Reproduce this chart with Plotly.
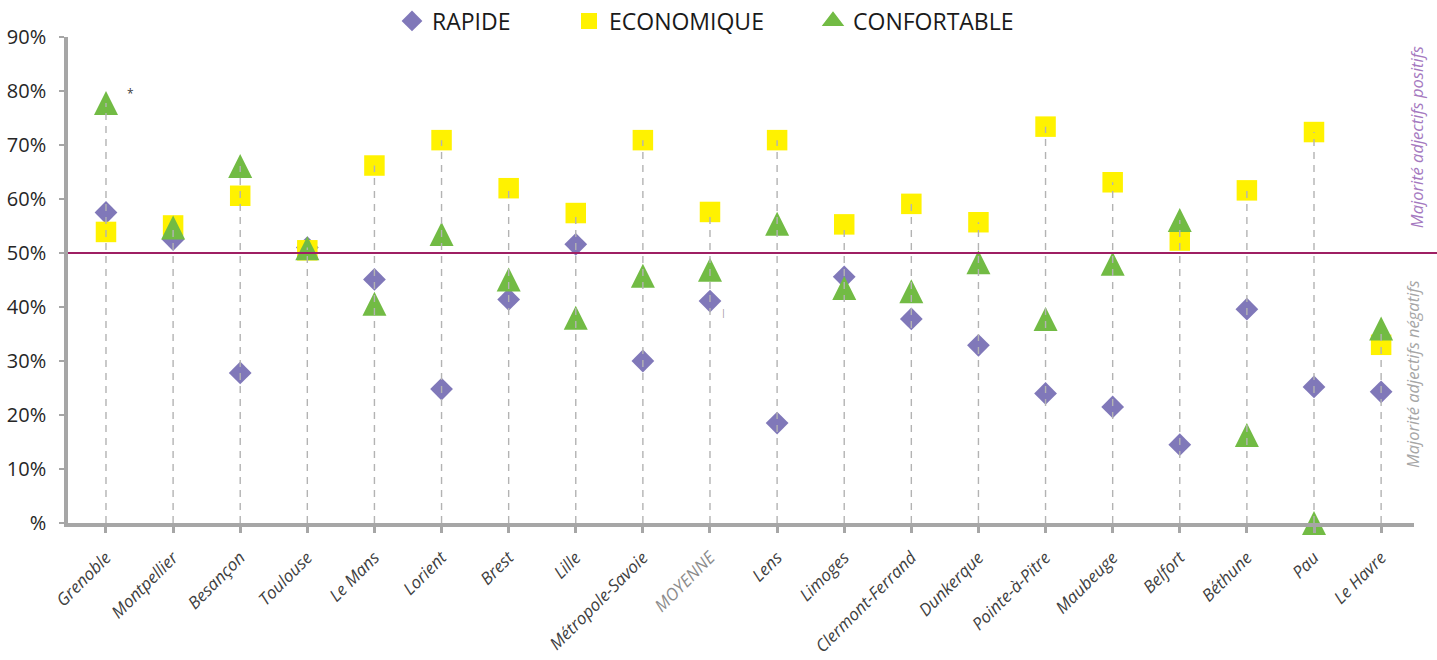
import plotly.graph_objects as go

categories = ["Grenoble", "Montpellier", "Besançon", "Toulouse", "Le Mans", "Lorient",
              "Brest", "Lille", "Métropole-Savoie", "MOYENNE", "Lens", "Limoges",
              "Clermont-Ferrand", "Dunkerque", "Pointe-à-Pitre", "Maubeuge", "Belfort",
              "Béthune", "Pau", "Le Havre"]
rapide = [57.5, 52.5, 27.8, 51.0, 45.1, 24.8, 41.4, 51.6, 30.0, 41.1,
          18.5, 45.6, 37.8, 32.9, 24.0, 21.5, 14.5, 39.6, 25.2, 24.3]
economique = [53.9, 55.1, 60.6, 50.5, 66.2, 70.9, 62.0, 57.4, 70.9, 57.6,
              70.9, 55.3, 59.1, 55.7, 73.4, 63.1, 52.3, 61.6, 72.4, 33.0]
confortable = [77.8, 54.7, 66.1, 50.9, 40.6, 53.5, 45.1, 38.0, 45.8, 46.9,
               55.4, 43.5, 42.9, 48.3, 37.8, 48.0, 56.1, 16.3, 0.0, 36.0]
series_names = ["RAPIDE", "ECONOMIQUE", "CONFORTABLE"]
y_tickvals = [0, 10, 20, 30, 40, 50, 60, 70, 80, 90]
y_ticktext = ["%", "10%", "20%", "30%", "40%", "50%", "60%", "70%", "80%", "90%"]
threshold = 50
label_pos = "Majorité adjectifs positifs"
label_neg = "Majorité adjectifs négatifs"

FONT = "Open Sans, sans-serif"
AXIS_GREY = "#a6a6a6"
GREEN = "#72bb44"

xs = list(range(len(categories)))
ticktext = [f"<span style='color:#8c8c8c'>{c}</span>" if c == "MOYENNE" else c for c in categories]

TRI = 24

fig = go.Figure()

fig.add_trace(go.Scatter(
    x=xs, y=rapide, name=series_names[0], mode="markers", cliponaxis=False,
    marker=dict(symbol="diamond", size=17.5, color="#8078b9"),
))
fig.add_trace(go.Scatter(
    x=xs, y=economique, name=series_names[1], mode="markers", cliponaxis=False,
    marker=dict(symbol="square", size=20.5, color="#fff200"),
))
# legend entry for CONFORTABLE (centred triangle symbol in the legend)
fig.add_trace(go.Scatter(
    x=[None], y=[None], name=series_names[2], mode="markers", legendgroup="conf",
    marker=dict(symbol="triangle-up", size=16, color=GREEN, line=dict(color=GREEN, width=2)),
))
fig.add_trace(go.Scatter(
    x=xs, y=confortable, name=series_names[2], mode="markers", cliponaxis=False,
    legendgroup="conf", showlegend=False,
    marker=dict(symbol="arrow-down", angle=180, size=TRI, standoff=TRI / 2, color=GREEN),
))

# drop lines from the highest marker of each category down to 0
dx, dy = [], []
for i, (a, b, c) in enumerate(zip(rapide, economique, confortable)):
    dx += [i, i, None]
    dy += [0, max(a, b, c), None]
fig.add_trace(go.Scatter(
    x=dx, y=dy, mode="lines", showlegend=False, hoverinfo="skip",
    line=dict(color="#b3b3b3", width=1.4, dash="7px,6px"),
))

fig.add_shape(type="line", xref="paper", yref="y", x0=0, x1=1.02, y0=threshold, y1=threshold,
              line=dict(color="#9e1f63", width=2.2), layer="above")

fig.add_annotation(xref="paper", yref="paper", x=1.0015, y=0.794, text=label_pos,
                   textangle=-90, showarrow=False, xanchor="center", yanchor="middle",
                   font=dict(family=FONT, size=16.5, color="#a579bf", style="italic"))
fig.add_annotation(xref="paper", yref="paper", x=0.9993, y=0.3066, text=label_neg,
                   textangle=-90, showarrow=False, xanchor="center", yanchor="middle",
                   font=dict(family=FONT, size=16.5, color="#a6a6a6", style="italic"))
fig.add_annotation(xref="x", yref="y", x=0.36, y=79.5, text="*", showarrow=False,
                   font=dict(family=FONT, size=12, color="#404040"))
fig.add_annotation(xref="x", yref="y", x=9.2, y=39, text="|", showarrow=False,
                   font=dict(family=FONT, size=9, color="#8c8c8c"))

fig.update_layout(
    width=1437, height=660,
    margin=dict(l=68, r=23, t=37, b=137, autoexpand=False),
    paper_bgcolor="white", plot_bgcolor="white",
    font=dict(family=FONT, color="#404040"),
    showlegend=True,
    legend=dict(orientation="h", xref="container", yref="container",
                x=392 / 1437, xanchor="left", y=1 - 21 / 660, yanchor="middle",
                font=dict(family=FONT, size=23, color="#1a1a1a"),
                bgcolor="rgba(0,0,0,0)", itemclick=False),
    xaxis=dict(range=[-0.566, 19.49], tickmode="array", tickvals=xs, ticktext=ticktext,
               tickangle=-45, showgrid=False, zeroline=False,
               showline=True, linecolor=AXIS_GREY, linewidth=4,
               ticks="outside", ticklen=6, tickwidth=3, tickcolor=AXIS_GREY,
               tickfont=dict(family=FONT, size=17, color="#404040", style="italic"),
               ticklabelstandoff=8),
    yaxis=dict(range=[0, 90], tickmode="array", tickvals=y_tickvals, ticktext=y_ticktext,
               showgrid=False, zeroline=False,
               showline=True, linecolor=AXIS_GREY, linewidth=3.5,
               ticks="outside", ticklen=5, tickwidth=2, tickcolor=AXIS_GREY,
               tickfont=dict(family=FONT, size=20, color="#262626"),
               ticklabelstandoff=9),
)
fig.data[0].legendwidth = 132
fig.data[1].legendwidth = 199
fig.data[2].legendwidth = 200

fig.write_html("out.html")
